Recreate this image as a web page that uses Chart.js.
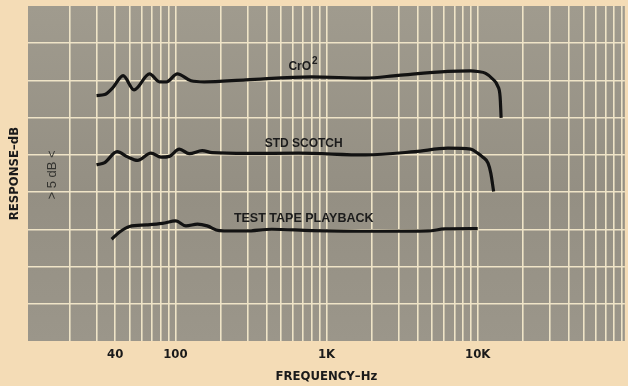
<!DOCTYPE html>
<html><head><meta charset="utf-8">
<script src="https://cdn.jsdelivr.net/npm/chart.js@4/dist/chart.umd.min.js"></script>
<style>html,body{margin:0;padding:0;background:#f4dcb6;}canvas{display:block}</style>
</head><body>
<canvas id="c" width="628" height="386"></canvas>
<script>
// ---- data (frequency in Hz, response in dB on a 0..45 dB grid) ----
const cro2Freq = [30.1, 34.1, 38.5, 45.1, 53.3, 67.5, 78.5, 87.3, 103, 127, 155, 293, 796, 1806, 2977, 6350, 8995, 10000, 11290, 12550, 13540, 14060, 14280];
const cro2Db   = [32.97, 33.1, 34.0, 35.66, 33.74, 35.89, 34.81, 34.81, 35.89, 34.95, 34.81, 35.08, 35.48, 35.31, 35.69, 36.22, 36.29, 36.2, 35.95, 35.2, 34.27, 32.8, 29.97];

const stdFreq = [30.1, 34.1, 41.2, 48.3, 56.2, 69.0, 80.3, 91.3, 106.2, 123.6, 150.5, 175, 300, 654, 1806, 3853, 6350, 8995, 10000, 10700, 11700, 12200, 12740];
const stdDb   = [23.66, 23.97, 25.44, 24.73, 24.26, 25.23, 24.69, 24.8, 25.77, 25.16, 25.58, 25.31, 25.2, 25.23, 25.0, 25.44, 25.9, 25.77, 25.23, 24.77, 23.9, 22.55, 20.07];

const testFreq = [37.9, 42.8, 49.8, 64.2, 82.1, 100.8, 117.6, 140.2, 162.4, 194.7, 291.7, 434.6, 796, 2198, 4690, 6040, 10000];
const testDb   = [13.67, 14.65, 15.39, 15.59, 15.79, 16.13, 15.46, 15.69, 15.46, 14.83, 14.78, 15.01, 14.83, 14.74, 14.78, 15.05, 15.09];

const gridMultipliers = [1, 2, 3, 4, 5, 6, 7, 8, 9];
const gridDecades = [10, 100, 1000, 10000];
const yGridValues = [5, 10, 15, 20, 25, 30, 35, 40];
const xTickValues = [40, 100, 1000, 10000];
const xTickText = ['40', '100', '1K', '10K'];

const curveLabels = [
  {text: 'CrO', sup: '2', f: 665, db: 36.8, size: 12},
  {text: 'STD SCOTCH', f: 706, db: 26.5, size: 12},
  {text: 'TEST TAPE PLAYBACK', f: 706, db: 16.5, size: 12.5}
];

const xGridValues = [];
gridDecades.forEach(d => gridMultipliers.forEach(m => { const v = d * m; if (v > 10.6) xGridValues.push(v); }));

const toPts = (fs, ds) => fs.map((f, i) => ({x: f, y: ds[i]}));

const FONT = "'Liberation Sans Narrow', 'DejaVu Sans Condensed', 'Liberation Sans', sans-serif";

const decor = {
  id: 'decor',
  beforeDraw(chart) {
    const {ctx, chartArea: a} = chart;
    ctx.save();
    ctx.fillStyle = '#f4dcb6';
    ctx.fillRect(0, 0, chart.width, chart.height);
    const g = ctx.createLinearGradient(0, a.top, 0, a.bottom);
    g.addColorStop(0, '#a09b8e');
    g.addColorStop(0.55, '#948f83');
    g.addColorStop(1, '#9b968a');
    ctx.fillStyle = g;
    ctx.fillRect(a.left, a.top, a.right - a.left, a.bottom - a.top);
    ctx.restore();
  },
  afterDatasetsDraw(chart) {
    const {ctx, scales: {x, y}} = chart;
    ctx.save();
    ctx.fillStyle = '#1c1c1c';
    ctx.textBaseline = 'middle';
    curveLabels.forEach(l => {
      const px = x.getPixelForValue(l.f), py = y.getPixelForValue(l.db);
      ctx.font = "bold " + l.size + "px 'Liberation Sans', sans-serif";
      const w = ctx.measureText(l.text).width;
      if (l.sup) {
        ctx.textAlign = 'left';
        ctx.fillText(l.text, px - w / 2, py);
        ctx.font = "bold 10px 'Liberation Sans', sans-serif";
        ctx.fillText(l.sup, px + w / 2 + 1, py - 6);
      } else {
        ctx.textAlign = 'center';
        ctx.fillText(l.text, px, py);
      }
    });
    // "> 5 dB <" rotated marker
    const mx = x.getPixelForValue(15.3), my = y.getPixelForValue(22.3);
    ctx.translate(mx, my);
    ctx.rotate(-Math.PI / 2);
    ctx.textAlign = 'center';
    ctx.fillStyle = '#33332f';
    ctx.font = "13px 'Liberation Sans', sans-serif";
    ctx.fillText('> 5 dB <', 0, 0);
    ctx.restore();
  }
};

const lineStyle = {borderColor: '#121212', borderWidth: 3.2, pointRadius: 0, cubicInterpolationMode: 'monotone', fill: false};

new Chart(document.getElementById('c'), {
  type: 'line',
  data: {
    datasets: [
      Object.assign({label: 'CrO2', data: toPts(cro2Freq, cro2Db)}, lineStyle),
      Object.assign({label: 'STD SCOTCH', data: toPts(stdFreq, stdDb)}, lineStyle),
      Object.assign({label: 'TEST TAPE PLAYBACK', data: toPts(testFreq, testDb)}, lineStyle)
    ]
  },
  plugins: [decor],
  options: {
    responsive: false,
    animation: false,
    devicePixelRatio: 1,
    layout: {padding: {top: 6, right: 0, left: 0, bottom: 0}},
    plugins: {legend: {display: false}, tooltip: {enabled: false}},
    scales: {
      x: {
        type: 'logarithmic',
        min: 10.6,
        max: 94000,
        afterBuildTicks: s => { s.ticks = xGridValues.map(v => ({value: v})); },
        afterFit: s => { s.height = 45; },
        grid: {color: '#efe4c7', lineWidth: 1.6, drawTicks: false},
        border: {display: false},
        ticks: {
          autoSkip: false, maxRotation: 0, padding: 6, color: '#1a1a1a',
          font: {family: FONT, size: 13, weight: 'bold'},
          callback: v => { const i = xTickValues.indexOf(v); return i >= 0 ? xTickText[i] : ''; }
        },
        title: {display: true, text: 'FREQUENCY\u2013Hz', color: '#1a1a1a', padding: {top: 0, bottom: 2},
                font: {family: FONT, size: 13, weight: 'bold'}}
      },
      y: {
        min: 0,
        max: 45,
        afterBuildTicks: s => { s.ticks = yGridValues.map(v => ({value: v})); },
        afterFit: s => { s.width = 28; },
        grid: {color: '#efe4c7', lineWidth: 1.6, drawTicks: false},
        border: {display: false},
        ticks: {display: false},
        title: {display: true, text: 'RESPONSE\u2013dB', color: '#1a1a1a', padding: {top: 7, bottom: 0},
                font: {family: FONT, size: 13, weight: 'bold'}}
      }
    }
  }
});
</script>
</body></html>
